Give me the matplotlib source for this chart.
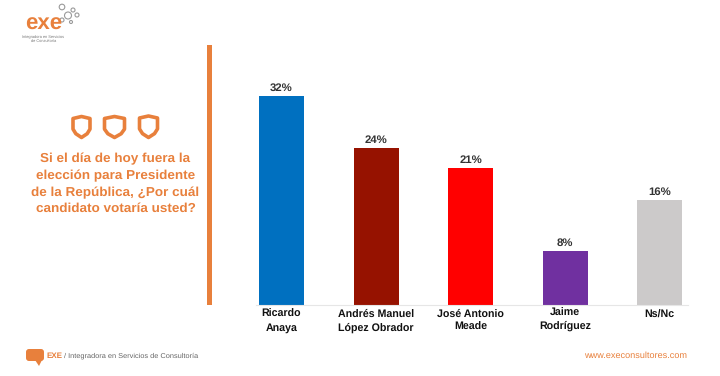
# Voting intention bars with the EXE slide furniture around them

import matplotlib
matplotlib.use("Agg")
import matplotlib.pyplot as plt
from matplotlib.patches import Circle, FancyBboxPatch, Polygon, Rectangle

candidates = ["Ricardo\nAnaya", "Andrés Manuel\nLópez Obrador", "José Antonio\nMeade",
              "Jaime\nRodríguez", "Ns/Nc"]
votes = [32, 24, 21, 8.3, 16]  # 8% bar is drawn a little taller than its label in the slide
bar_colors = ["#0070C0", "#961200", "#FF0000", "#7030A0", "#CCCACA"]
question = ["Si el día de hoy fuera la", "elección para Presidente",
            "de la República, ¿Por cuál", "candidato votaría usted?"]

ORANGE = "#E8803C"
W, H = 720, 376

plt.rcParams["font.family"] = ["Liberation Sans", "DejaVu Sans"]
plt.rcParams["text.hinting"] = "none"
plt.rcParams["text.hinting_factor"] = 8

fig = plt.figure(figsize=(W / 100, H / 100), dpi=100)

# overlay in pixel coords for the slide decoration
bg = fig.add_axes([0, 0, 1, 1])
bg.set_xlim(0, W)
bg.set_ylim(H, 0)
bg.axis("off")

# bar chart
ax = fig.add_axes([256 / W, (H - 305) / H, 432 / W, 261.5 / H])
ax.patch.set_alpha(0)
ax.bar(range(len(votes)), votes, width=0.476, color=bar_colors)
for i, v in enumerate(votes):
    ax.text(i, v + 0.45, f"{v:.0f}%", ha="center", va="bottom", fontsize=8.2,
            fontweight="bold", color="#333333")
ax.set_xlim(-0.27, 4.30)
ax.set_ylim(0, 40)
ax.set_yticks([])
for s in ["top", "left", "right"]:
    ax.spines[s].set_visible(False)
ax.spines["bottom"].set_color("#E6E6E6")
ax.spines["bottom"].set_linewidth(0.8)
ax.set_xticks(range(len(votes)))
ax.set_xticklabels([])
ax.tick_params(length=0)
label_y = [321, 321, 321, 319.5, 314.5]
for i, (name, y) in enumerate(zip(candidates, label_y)):
    bg.text(281.5 + i * 94.5, y, name, ha="center", va="center", fontsize=7.7,
            fontweight="bold", color="#111111", linespacing=1.35)

# vertical divider
bg.add_patch(Rectangle((206.5, 45), 5, 260, color=ORANGE, lw=0))

# question text
for line, y in zip(question, [159, 176, 193, 209]):
    bg.text(115.5, y, line, ha="center", va="center", fontsize=9.7,
            fontweight="bold", color=ORANGE)


# three shield outlines
def shield(cx, top, w, h):
    pts = [(cx - w / 2, top + 2), (cx - w / 4, top + 1), (cx, top), (cx + w / 4, top + 1),
           (cx + w / 2, top + 2), (cx + w / 2, top + h * 0.6), (cx + w / 3, top + h * 0.82),
           (cx, top + h), (cx - w / 3, top + h * 0.82), (cx - w / 2, top + h * 0.6)]
    bg.add_patch(Polygon(pts, closed=True, fill=False, ec=ORANGE, lw=2.6, joinstyle="round"))


shield(81.5, 116.5, 17, 21)
shield(114.5, 116.5, 20, 21)
shield(148.5, 116, 18, 21.5)

# logo
bg.text(43.5, 24, "exe", ha="center", va="center", fontsize=16, fontweight="bold", color=ORANGE)
bg.text(43.5, 39.5, "Integradora en Servicios\nde Consultoría", ha="center", va="center",
        fontsize=2.8, color="#777777")
for cx, cy, r in [(62, 7, 2.8), (73, 10, 2), (68, 15.5, 3.5), (77, 15, 2), (62, 20, 2), (71, 22, 1.5)]:
    bg.add_patch(Circle((cx, cy), r, fill=False, ec="#9A9A9A", lw=0.8))

# footer
bg.add_patch(FancyBboxPatch((26, 349), 18, 12, boxstyle="round,pad=0,rounding_size=3",
                            fc=ORANGE, ec="none"))
bg.add_patch(Polygon([(35, 360), (42, 360), (39, 366)], closed=True, fc=ORANGE, ec="none"))
bg.text(46, 355.5, "EXE", ha="left", va="center", fontsize=5.8, fontweight="bold", color=ORANGE)
bg.text(63.5, 355.5, "/ Integradora en Servicios de Consultoría", ha="left", va="center",
        fontsize=5.35, color="#666666")
bg.text(687.5, 355.5, "www.execonsultores.com", ha="right", va="center", fontsize=6.6, color=ORANGE)

fig.savefig("out.png", dpi=100)
